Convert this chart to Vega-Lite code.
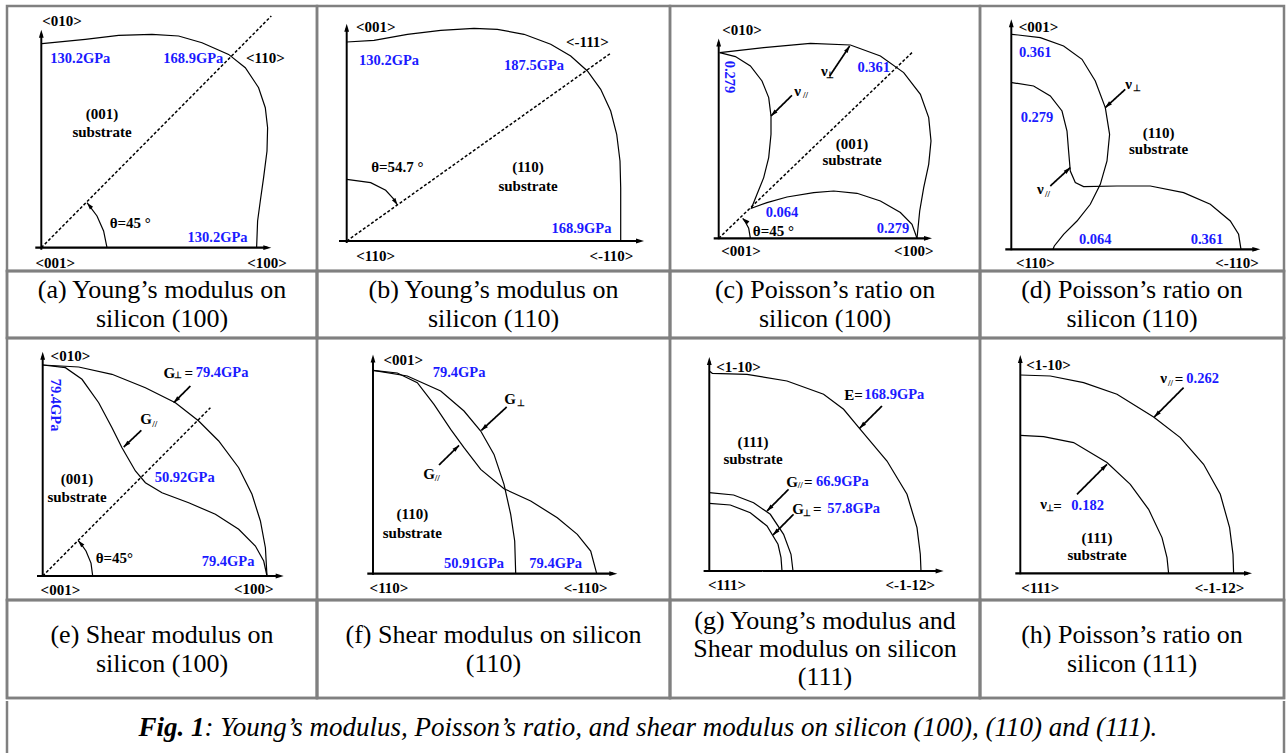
{
"$schema":"https://vega.github.io/schema/vega-lite/v6.json",
"background":"white",
"padding":{"left":4,"top":4,"right":0,"bottom":0},
"spacing":-2.5,
"config":{"view":{"stroke":"#808080","strokeWidth":2.5},"text":{"font":"Liberation Serif"}},
"datasets":{
"curves":[
{"p":"a","c":"E","u":0.7,"v":204},{"p":"a","c":"E","u":44,"v":208.3},{"p":"a","c":"E","u":77.3,"v":212.3},{"p":"a","c":"E","u":110.7,"v":213.3},{"p":"a","c":"E","u":137.3,"v":211.7},{"p":"a","c":"E","u":160.7,"v":205},{"p":"a","c":"E","u":187.3,"v":193.3},{"p":"a","c":"E","u":204,"v":180},{"p":"a","c":"E","u":217.3,"v":160},{"p":"a","c":"E","u":224,"v":140},{"p":"a","c":"E","u":226.3,"v":120},{"p":"a","c":"E","u":225.7,"v":96.7},{"p":"a","c":"E","u":222.3,"v":70},{"p":"a","c":"E","u":219,"v":46.7},{"p":"a","c":"E","u":216.3,"v":26.7},{"p":"a","c":"E","u":215.3,"v":0},
{"p":"a","c":"arc","u":65.7,"v":0},{"p":"a","c":"arc","u":62.3,"v":16.7},{"p":"a","c":"arc","u":55.7,"v":31.7},{"p":"a","c":"arc","u":45.7,"v":45},
{"p":"b","c":"E","u":0,"v":199},{"p":"b","c":"E","u":27.3,"v":200.7},{"p":"b","c":"E","u":60.7,"v":206.7},{"p":"b","c":"E","u":94,"v":210.7},{"p":"b","c":"E","u":127.3,"v":212.7},{"p":"b","c":"E","u":150.7,"v":211.7},{"p":"b","c":"E","u":177.3,"v":206.7},{"p":"b","c":"E","u":204,"v":196.7},{"p":"b","c":"E","u":224,"v":185},{"p":"b","c":"E","u":240.7,"v":170},{"p":"b","c":"E","u":254,"v":151.7},{"p":"b","c":"E","u":264,"v":130},{"p":"b","c":"E","u":270,"v":106.7},{"p":"b","c":"E","u":273.3,"v":80},{"p":"b","c":"E","u":274,"v":53.3},{"p":"b","c":"E","u":274,"v":26.7},{"p":"b","c":"E","u":274,"v":0.7},
{"p":"b","c":"arc","u":0,"v":61.7},{"p":"b","c":"arc","u":24,"v":58.3},{"p":"b","c":"arc","u":39,"v":50.7},{"p":"b","c":"arc","u":47.3,"v":41.7},{"p":"b","c":"arc","u":50.7,"v":36},
{"p":"c","c":"perp","u":1,"v":185.7},{"p":"c","c":"perp","u":45,"v":190.7},{"p":"c","c":"perp","u":91.7,"v":195},{"p":"c","c":"perp","u":131.7,"v":193.3},{"p":"c","c":"perp","u":161.7,"v":182.3},{"p":"c","c":"perp","u":185,"v":165.7},{"p":"c","c":"perp","u":201.7,"v":144},{"p":"c","c":"perp","u":210,"v":120.7},{"p":"c","c":"perp","u":212.3,"v":97.3},{"p":"c","c":"perp","u":210,"v":74},{"p":"c","c":"perp","u":205,"v":50.7},{"p":"c","c":"perp","u":201,"v":27.3},{"p":"c","c":"perp","u":198.3,"v":0},
{"p":"c","c":"par","u":1,"v":185.7},{"p":"c","c":"par","u":16.7,"v":181.7},{"p":"c","c":"par","u":31.7,"v":172.3},{"p":"c","c":"par","u":43.3,"v":157.3},{"p":"c","c":"par","u":50,"v":140.7},{"p":"c","c":"par","u":52.3,"v":122.3},{"p":"c","c":"par","u":52.3,"v":104},{"p":"c","c":"par","u":50,"v":80.7},{"p":"c","c":"par","u":45,"v":60.7},{"p":"c","c":"par","u":38.3,"v":44},{"p":"c","c":"par","u":32.7,"v":30},{"p":"c","c":"par","u":48.3,"v":35.7},{"p":"c","c":"par","u":68.3,"v":41.3},{"p":"c","c":"par","u":95,"v":45.7},{"p":"c","c":"par","u":115,"v":47.3},{"p":"c","c":"par","u":138.3,"v":45},{"p":"c","c":"par","u":161.7,"v":37.3},{"p":"c","c":"par","u":181.7,"v":25.7},{"p":"c","c":"par","u":193.3,"v":14},{"p":"c","c":"par","u":198.3,"v":0},
{"p":"c","c":"arc","u":31.7,"v":0},{"p":"c","c":"arc","u":30,"v":10},{"p":"c","c":"arc","u":26.5,"v":16.5},{"p":"c","c":"arc","u":24,"v":20},
{"p":"d","c":"perp","u":0.7,"v":215},{"p":"d","c":"perp","u":29,"v":211.7},{"p":"d","c":"perp","u":52.3,"v":203.3},{"p":"d","c":"perp","u":70.7,"v":190},{"p":"d","c":"perp","u":84,"v":168.3},{"p":"d","c":"perp","u":94,"v":141.7},{"p":"d","c":"perp","u":98.3,"v":115},{"p":"d","c":"perp","u":95.7,"v":88.3},{"p":"d","c":"perp","u":89,"v":65},{"p":"d","c":"perp","u":79,"v":45},{"p":"d","c":"perp","u":65.7,"v":28.3},{"p":"d","c":"perp","u":52.3,"v":15},{"p":"d","c":"perp","u":43,"v":3.3},{"p":"d","c":"perp","u":41.7,"v":0},
{"p":"d","c":"par","u":0.7,"v":166.7},{"p":"d","c":"par","u":22.3,"v":163.3},{"p":"d","c":"par","u":39,"v":153.3},{"p":"d","c":"par","u":50.7,"v":138.3},{"p":"d","c":"par","u":55.7,"v":118.3},{"p":"d","c":"par","u":57.3,"v":98.3},{"p":"d","c":"par","u":59,"v":78.3},{"p":"d","c":"par","u":64,"v":66.7},{"p":"d","c":"par","u":72.3,"v":62.7},{"p":"d","c":"par","u":105.7,"v":63.3},{"p":"d","c":"par","u":139,"v":63.3},{"p":"d","c":"par","u":172.3,"v":56.7},{"p":"d","c":"par","u":199,"v":45},{"p":"d","c":"par","u":219,"v":28.3},{"p":"d","c":"par","u":227.3,"v":15},{"p":"d","c":"par","u":229.7,"v":0},
{"p":"e","c":"perp","u":0,"v":211},{"p":"e","c":"perp","u":36,"v":209},{"p":"e","c":"perp","u":69.3,"v":201.7},{"p":"e","c":"perp","u":102.7,"v":188.3},{"p":"e","c":"perp","u":132.7,"v":173.3},{"p":"e","c":"perp","u":156,"v":155},{"p":"e","c":"perp","u":176,"v":135},{"p":"e","c":"perp","u":196,"v":108.3},{"p":"e","c":"perp","u":209.3,"v":81.7},{"p":"e","c":"perp","u":217.7,"v":55},{"p":"e","c":"perp","u":222.7,"v":28.3},{"p":"e","c":"perp","u":224.3,"v":0},
{"p":"e","c":"par","u":0,"v":211},{"p":"e","c":"par","u":22.7,"v":208.3},{"p":"e","c":"par","u":39.3,"v":196.7},{"p":"e","c":"par","u":56,"v":173.3},{"p":"e","c":"par","u":69.3,"v":148.3},{"p":"e","c":"par","u":79.3,"v":128.3},{"p":"e","c":"par","u":92.7,"v":105},{"p":"e","c":"par","u":102.7,"v":93.3},{"p":"e","c":"par","u":119.3,"v":83.3},{"p":"e","c":"par","u":146,"v":73.3},{"p":"e","c":"par","u":172.7,"v":61.7},{"p":"e","c":"par","u":196,"v":46.7},{"p":"e","c":"par","u":212.7,"v":30},{"p":"e","c":"par","u":221,"v":15},{"p":"e","c":"par","u":224.3,"v":0},
{"p":"e","c":"arc","u":50,"v":0},{"p":"e","c":"arc","u":48.3,"v":12.9},{"p":"e","c":"arc","u":43.3,"v":25},{"p":"e","c":"arc","u":38.3,"v":32.1},{"p":"e","c":"arc","u":35.4,"v":35.4},
{"p":"f","c":"perp","u":0,"v":203.3},{"p":"f","c":"perp","u":34.3,"v":197.7},{"p":"f","c":"perp","u":67.7,"v":182.7},{"p":"f","c":"perp","u":91,"v":162.7},{"p":"f","c":"perp","u":107.7,"v":142.7},{"p":"f","c":"perp","u":121,"v":119.3},{"p":"f","c":"perp","u":131,"v":89.3},{"p":"f","c":"perp","u":137.7,"v":59.3},{"p":"f","c":"perp","u":141.7,"v":32.7},{"p":"f","c":"perp","u":142.7,"v":0},
{"p":"f","c":"par","u":0,"v":203.3},{"p":"f","c":"par","u":24.3,"v":200.7},{"p":"f","c":"par","u":44.3,"v":191},{"p":"f","c":"par","u":61,"v":169.3},{"p":"f","c":"par","u":77.7,"v":144.3},{"p":"f","c":"par","u":91,"v":126},{"p":"f","c":"par","u":107.7,"v":104.3},{"p":"f","c":"par","u":131,"v":85},{"p":"f","c":"par","u":157.7,"v":72.7},{"p":"f","c":"par","u":184.3,"v":56},{"p":"f","c":"par","u":204.3,"v":39.3},{"p":"f","c":"par","u":217.7,"v":22.7},{"p":"f","c":"par","u":223.7,"v":0},
{"p":"g","c":"E","u":0,"v":200},{"p":"g","c":"E","u":3,"v":197.7},{"p":"g","c":"E","u":37.7,"v":196.7},{"p":"g","c":"E","u":77.7,"v":190},{"p":"g","c":"E","u":114.3,"v":176.7},{"p":"g","c":"E","u":134.3,"v":161.7},{"p":"g","c":"E","u":151,"v":141.7},{"p":"g","c":"E","u":177.7,"v":110},{"p":"g","c":"E","u":197.7,"v":76.7},{"p":"g","c":"E","u":207.7,"v":43.3},{"p":"g","c":"E","u":211,"v":16.7},{"p":"g","c":"E","u":211.7,"v":0},
{"p":"g","c":"par","u":0,"v":78.3},{"p":"g","c":"par","u":24.3,"v":76},{"p":"g","c":"par","u":44.3,"v":68.3},{"p":"g","c":"par","u":61,"v":56.7},{"p":"g","c":"par","u":74.3,"v":36.7},{"p":"g","c":"par","u":81.7,"v":16.7},{"p":"g","c":"par","u":83.7,"v":0},
{"p":"g","c":"perp","u":0,"v":67.7},{"p":"g","c":"perp","u":21,"v":66},{"p":"g","c":"perp","u":41,"v":58.3},{"p":"g","c":"perp","u":57.7,"v":45},{"p":"g","c":"perp","u":68.7,"v":26.7},{"p":"g","c":"perp","u":71.7,"v":13.3},{"p":"g","c":"perp","u":72.7,"v":0},
{"p":"h","c":"par","u":0,"v":198.3},{"p":"h","c":"par","u":30,"v":197.3},{"p":"h","c":"par","u":63.3,"v":190.7},{"p":"h","c":"par","u":96.7,"v":179},{"p":"h","c":"par","u":133.3,"v":156.3},{"p":"h","c":"par","u":160,"v":135.7},{"p":"h","c":"par","u":183.3,"v":109},{"p":"h","c":"par","u":200,"v":79},{"p":"h","c":"par","u":209.3,"v":45.7},{"p":"h","c":"par","u":212.7,"v":19},{"p":"h","c":"par","u":213.3,"v":0},
{"p":"h","c":"perp","u":0,"v":138},{"p":"h","c":"perp","u":23.3,"v":136.7},{"p":"h","c":"perp","u":53.3,"v":130.7},{"p":"h","c":"perp","u":86.7,"v":110.7},{"p":"h","c":"perp","u":110,"v":89},{"p":"h","c":"perp","u":128.3,"v":64},{"p":"h","c":"perp","u":141.7,"v":35.7},{"p":"h","c":"perp","u":146.7,"v":15.7},{"p":"h","c":"perp","u":148.3,"v":0}
],
"segs":[
{"p":"a","k":"xaxis","u":-6,"v":0,"u2":226,"v2":0},{"p":"a","k":"yaxis","u":0,"v":-2,"u2":0,"v2":214},{"p":"a","k":"dash","u":0,"v":0,"u2":230,"v2":231.7},
{"p":"b","k":"xaxis","u":-7.7,"v":0,"u2":293,"v2":0},{"p":"b","k":"yaxis","u":0,"v":-2,"u2":0,"v2":213},{"p":"b","k":"dash","u":0,"v":0,"u2":264.7,"v2":188.3},
{"p":"c","k":"xaxis","u":-5,"v":0,"u2":209,"v2":0},{"p":"c","k":"yaxis","u":0,"v":-1,"u2":0,"v2":196},{"p":"c","k":"dash","u":0,"v":0,"u2":193.3,"v2":185.7},{"p":"c","k":"ptr","u":111,"v":162.3,"u2":131,"v2":192.3},{"p":"c","k":"ptr","u":73.3,"v":143,"u2":52.3,"v2":122.3},
{"p":"d","k":"xaxis","u":-6,"v":0,"u2":245,"v2":0},{"p":"d","k":"yaxis","u":0,"v":-1,"u2":0,"v2":226},{"p":"d","k":"ptr","u":114,"v":160,"u2":94,"v2":141.7},{"p":"d","k":"ptr","u":39,"v":63.3,"u2":59,"v2":81.7},
{"p":"e","k":"xaxis","u":-5.7,"v":0,"u2":237,"v2":0},{"p":"e","k":"yaxis","u":0,"v":-1,"u2":0,"v2":220},{"p":"e","k":"dash","u":0,"v":0,"u2":167.7,"v2":168.3},{"p":"e","k":"ptr","u":147.7,"v":190,"u2":131,"v2":173.3},{"p":"e","k":"ptr","u":98.7,"v":145.7,"u2":81,"v2":129},
{"p":"f","k":"xaxis","u":-5.7,"v":0,"u2":240,"v2":0},{"p":"f","k":"yaxis","u":0,"v":-1,"u2":0,"v2":215},{"p":"f","k":"ptr","u":133.7,"v":166.7,"u2":108.3,"v2":143.3},{"p":"f","k":"ptr","u":66,"v":108.7,"u2":86,"v2":128.3},
{"p":"g","k":"xaxis","u":-5.7,"v":0,"u2":230,"v2":0},{"p":"g","k":"yaxis","u":0,"v":-1,"u2":0,"v2":210},{"p":"g","k":"ptr","u":172.7,"v":165,"u2":150.3,"v2":142.7},{"p":"g","k":"ptr","u":79.3,"v":81.7,"u2":57.7,"v2":60},{"p":"g","k":"ptr","u":84.3,"v":56.7,"u2":63.7,"v2":36},
{"p":"h","k":"xaxis","u":-5,"v":0,"u2":227.7,"v2":0},{"p":"h","k":"yaxis","u":0,"v":-1,"u2":0,"v2":214.3},{"p":"h","k":"ptr","u":163.3,"v":185.7,"u2":134,"v2":156.3},{"p":"h","k":"ptr","u":56.7,"v":79,"u2":86.7,"v2":109}
],
"heads":[
{"p":"a","k":"axis","u":230,"v":0,"a":90},{"p":"a","k":"axis","u":0,"v":218,"a":0},{"p":"a","k":"ptr","u":45.7,"v":45,"a":-40},
{"p":"b","k":"axis","u":297.3,"v":0,"a":90},{"p":"b","k":"axis","u":0,"v":217.3,"a":0},{"p":"b","k":"ptr","u":50.7,"v":36,"a":148},
{"p":"c","k":"axis","u":213.3,"v":0,"a":90},{"p":"c","k":"axis","u":0,"v":199.7,"a":0},{"p":"c","k":"ptr","u":131,"v":192.3,"a":33.7},{"p":"c","k":"ptr","u":52.3,"v":122.3,"a":225.4},{"p":"c","k":"ptr","u":24,"v":20,"a":-50},
{"p":"d","k":"axis","u":249,"v":0,"a":90},{"p":"d","k":"axis","u":0,"v":230,"a":0},{"p":"d","k":"ptr","u":94,"v":141.7,"a":227.5},{"p":"d","k":"ptr","u":59,"v":81.7,"a":47.4},
{"p":"e","k":"axis","u":241,"v":0,"a":90},{"p":"e","k":"axis","u":0,"v":224.3,"a":0},{"p":"e","k":"ptr","u":131,"v":173.3,"a":225},{"p":"e","k":"ptr","u":81,"v":129,"a":226.7},{"p":"e","k":"ptr","u":35.4,"v":35.4,"a":-42},
{"p":"f","k":"axis","u":244.3,"v":0,"a":90},{"p":"f","k":"axis","u":0,"v":219.3,"a":0},{"p":"f","k":"ptr","u":108.3,"v":143.3,"a":227.3},{"p":"f","k":"ptr","u":86,"v":128.3,"a":45.6},
{"p":"g","k":"axis","u":234.3,"v":0,"a":90},{"p":"g","k":"axis","u":0,"v":214,"a":0},{"p":"g","k":"ptr","u":150.3,"v":142.7,"a":225},{"p":"g","k":"ptr","u":57.7,"v":60,"a":225},{"p":"g","k":"ptr","u":63.7,"v":36,"a":225},
{"p":"h","k":"axis","u":231.7,"v":0,"a":90},{"p":"h","k":"axis","u":0,"v":218.3,"a":0},{"p":"h","k":"ptr","u":134,"v":156.3,"a":225},{"p":"h","k":"ptr","u":86.7,"v":109,"a":45}
],
"black":[
{"p":"a","t":"<010>","u":20.7,"v":226.7},{"p":"a","t":"<110>","u":224,"v":189.3},{"p":"a","t":"(001)","u":60.7,"v":133.3},{"p":"a","t":"substrate","u":60.7,"v":116},{"p":"a","t":"θ=45 °","u":89,"v":25},{"p":"a","t":"<001>","u":14,"v":-15},{"p":"a","t":"<100>","u":225.7,"v":-15},
{"p":"b","t":"<001>","u":29,"v":214},{"p":"b","t":"<-111>","u":240.7,"v":199.3},{"p":"b","t":"θ=54.7 °","u":50.7,"v":74.3},{"p":"b","t":"(110)","u":181.3,"v":74.3},{"p":"b","t":"substrate","u":181.3,"v":55},{"p":"b","t":"<110>","u":29,"v":-15},{"p":"b","t":"<-110>","u":264.7,"v":-15},
{"p":"c","t":"<010>","u":23.3,"v":208},{"p":"c","t":"ν","u":105.7,"v":167.3},{"p":"c","t":"ν","u":79,"v":147.3},{"p":"c","t":"(001)","u":133.3,"v":94},{"p":"c","t":"substrate","u":133.3,"v":78},{"p":"c","t":"θ=45 °","u":54.7,"v":7.3},{"p":"c","t":"<001>","u":22.3,"v":-12.7},{"p":"c","t":"<100>","u":195,"v":-12.7},
{"p":"d","t":"<001>","u":27.3,"v":222.3},{"p":"d","t":"ν","u":117.3,"v":165},{"p":"d","t":"(110)","u":147.3,"v":116.7},{"p":"d","t":"substrate","u":147.3,"v":100},{"p":"d","t":"ν","u":29,"v":60},{"p":"d","t":"<110>","u":24,"v":-13.3},{"p":"d","t":"<-110>","u":225.7,"v":-13.3},
{"p":"e","t":"<010>","u":27.7,"v":220},{"p":"e","t":"G","u":126.7,"v":203.3},{"p":"e","t":"=","u":146,"v":203.3},{"p":"e","t":"G","u":103.3,"v":156.7},{"p":"e","t":"(001)","u":34.3,"v":96.7},{"p":"e","t":"substrate","u":34.3,"v":79.3},{"p":"e","t":"θ=45°","u":71.7,"v":18.3},{"p":"e","t":"<001>","u":17.7,"v":-14.3},{"p":"e","t":"<100>","u":211,"v":-13.3},
{"p":"f","t":"<001>","u":30.3,"v":213.3},{"p":"f","t":"G","u":137,"v":174.3},{"p":"f","t":"G","u":56,"v":99.3},{"p":"f","t":"(110)","u":39.3,"v":59.3},{"p":"f","t":"substrate","u":39.3,"v":41},{"p":"f","t":"<110>","u":16,"v":-14},{"p":"f","t":"<-110>","u":212.7,"v":-14},
{"p":"g","t":"<1-10>","u":29.3,"v":204},{"p":"g","t":"E=","u":144.3,"v":176},{"p":"g","t":"(111)","u":43.7,"v":129.3},{"p":"g","t":"substrate","u":43.7,"v":111.7},{"p":"g","t":"G","u":82.7,"v":89.3},{"p":"g","t":"=","u":99,"v":89.3},{"p":"g","t":"G","u":88.7,"v":61.7},{"p":"g","t":"=","u":108,"v":61.7},{"p":"g","t":"<111>","u":17.7,"v":-14.3},{"p":"g","t":"<-1-12>","u":201,"v":-14.3},
{"p":"h","t":"<1-10>","u":28.3,"v":208.3},{"p":"h","t":"ν","u":143.3,"v":195},{"p":"h","t":"=","u":158.7,"v":194},{"p":"h","t":"ν","u":23.3,"v":69},{"p":"h","t":"=","u":37.3,"v":67.3},{"p":"h","t":"(111)","u":76.7,"v":35.7},{"p":"h","t":"substrate","u":76.7,"v":18},{"p":"h","t":"<111>","u":20,"v":-14.3},{"p":"h","t":"<-1-12>","u":199.3,"v":-14.3}
],
"blue":[
{"p":"a","t":"130.2GPa","u":39,"v":188.3},{"p":"a","t":"168.9GPa","u":152,"v":188.3},{"p":"a","t":"130.2GPa","u":176.3,"v":9.3},
{"p":"b","t":"130.2GPa","u":42.3,"v":180},{"p":"b","t":"187.5GPa","u":187.3,"v":175},{"p":"b","t":"168.9GPa","u":234.7,"v":12.3},
{"p":"c","t":"0.361","u":155,"v":170.7},{"p":"c","t":"0.064","u":63.3,"v":25.7},{"p":"c","t":"0.279","u":174.3,"v":9.7},
{"p":"d","t":"0.361","u":24,"v":196.7},{"p":"d","t":"0.279","u":25.7,"v":131},{"p":"d","t":"0.064","u":84,"v":9},{"p":"d","t":"0.361","u":195.7,"v":9},
{"p":"e","t":"79.4GPa","u":179.3,"v":202.7},{"p":"e","t":"50.92GPa","u":142,"v":97.7},{"p":"e","t":"79.4GPa","u":185.3,"v":14},
{"p":"f","t":"79.4GPa","u":86,"v":200.3},{"p":"f","t":"50.91GPa","u":101,"v":10},{"p":"f","t":"79.4GPa","u":182.7,"v":10},
{"p":"g","t":"168.9GPa","u":185,"v":176},{"p":"g","t":"66.9GPa","u":133,"v":89.3},{"p":"g","t":"57.8GPa","u":144.3,"v":61.7},
{"p":"h","t":"0.262","u":182.3,"v":194},{"p":"h","t":"0.182","u":67.3,"v":67.3}
],
"vblue":[
{"p":"c","t":"0.279","u":10,"v":161.3},{"p":"e","t":"79.4GPa","u":12,"v":171}
],
"subs":[
{"p":"c","t":"⊥","u":111,"v":163.3},{"p":"c","t":"//","u":86.7,"v":143.3},
{"p":"d","t":"⊥","u":125.7,"v":161},{"p":"d","t":"//","u":36.3,"v":55.7},
{"p":"e","t":"⊥","u":135.7,"v":200.7},{"p":"e","t":"//","u":112,"v":151.7},
{"p":"f","t":"⊥","u":147.7,"v":171},{"p":"f","t":"//","u":64.3,"v":95.3},
{"p":"g","t":"//","u":91,"v":86},{"p":"g","t":"⊥","u":98,"v":58.3},
{"p":"h","t":"//","u":150.3,"v":190.7},{"p":"h","t":"⊥","u":29.7,"v":65.7}
],
"caps":[
{"id":"a","t":"(a) Young’s modulus on\nsilicon (100)"},
{"id":"b","t":"(b) Young’s modulus on\nsilicon (110)"},
{"id":"c","t":"(c) Poisson’s ratio on\nsilicon (100)"},
{"id":"d","t":"(d) Poisson’s ratio on\nsilicon  (110)"},
{"id":"e","t":"(e) Shear modulus on\nsilicon  (100)"},
{"id":"f","t":"(f) Shear modulus on silicon\n(110)"},
{"id":"g","t":"(g) Young’s modulus and\nShear modulus on silicon\n(111)"},
{"id":"h","t":"(h) Poisson’s ratio on\nsilicon  (111)"}
],
"fig":[{"a":"Fig. 1","b":": Young’s modulus, Poisson’s ratio, and shear modulus on silicon (100), (110) and (111)."}]
},
"vconcat":[
{"columns":4,"spacing":0,"bounds":"flush","align":"each","concat":[
{"width":310,"height":265,
"encoding":{"x":{"field":"u","type":"quantitative","scale":{"domain":[-34.3,275.7],"nice":false,"zero":false},"axis":null},"y":{"field":"v","type":"quantitative","scale":{"domain":[-23.3,241.7],"nice":false,"zero":false},"axis":null}},
"layer":[
{"data":{"name":"segs"},"transform":[{"filter":"datum.p=='a'"}],"mark":{"type":"rule","color":"black"},"encoding":{"x2":{"field":"u2"},"y2":{"field":"v2"},"strokeWidth":{"field":"k","type":"ordinal","scale":{"domain":["xaxis","yaxis","ptr","dash"],"range":[2.2,1.5,1,0.8]},"legend":null},"strokeDash":{"field":"k","type":"ordinal","scale":{"domain":["xaxis","yaxis","ptr","dash"],"range":[[1,0],[1,0],[1,0],[3,2]]},"legend":null}}},
{"data":{"name":"curves"},"transform":[{"filter":"datum.p=='a'"}],"mark":{"type":"line","color":"black","strokeWidth":1.2},"encoding":{"detail":{"field":"c"},"order":{"value":null}}},
{"data":{"name":"heads"},"transform":[{"filter":"datum.p=='a'"}],"mark":{"type":"point","shape":"M0,0L-0.6,2L0.6,2Z","filled":true,"color":"black","opacity":1},"encoding":{"angle":{"field":"a","type":"quantitative","scale":null},"size":{"field":"k","type":"ordinal","scale":{"domain":["axis","ptr"],"range":[64,49]},"legend":null}}},
{"data":{"name":"black"},"transform":[{"filter":"datum.p=='a'"}],"mark":{"type":"text","fontWeight":"bold","fontSize":15,"color":"black","baseline":"middle"},"encoding":{"text":{"field":"t"}}},
{"data":{"name":"blue"},"transform":[{"filter":"datum.p=='a'"}],"mark":{"type":"text","fontWeight":"bold","fontSize":14.5,"color":"#1a1aff","baseline":"middle"},"encoding":{"text":{"field":"t"}}}
]},
{"width":353,"height":265,
"encoding":{"x":{"field":"u","type":"quantitative","scale":{"domain":[-29.7,323.3],"nice":false,"zero":false},"axis":null},"y":{"field":"v","type":"quantitative","scale":{"domain":[-30,235],"nice":false,"zero":false},"axis":null}},
"layer":[
{"data":{"name":"segs"},"transform":[{"filter":"datum.p=='b'"}],"mark":{"type":"rule","color":"black"},"encoding":{"x2":{"field":"u2"},"y2":{"field":"v2"},"strokeWidth":{"field":"k","type":"ordinal","scale":{"domain":["xaxis","yaxis","ptr","dash"],"range":[2.2,1.5,1,0.8]},"legend":null},"strokeDash":{"field":"k","type":"ordinal","scale":{"domain":["xaxis","yaxis","ptr","dash"],"range":[[1,0],[1,0],[1,0],[3,2]]},"legend":null}}},
{"data":{"name":"curves"},"transform":[{"filter":"datum.p=='b'"}],"mark":{"type":"line","color":"black","strokeWidth":1.2},"encoding":{"detail":{"field":"c"},"order":{"value":null}}},
{"data":{"name":"heads"},"transform":[{"filter":"datum.p=='b'"}],"mark":{"type":"point","shape":"M0,0L-0.6,2L0.6,2Z","filled":true,"color":"black","opacity":1},"encoding":{"angle":{"field":"a","type":"quantitative","scale":null},"size":{"field":"k","type":"ordinal","scale":{"domain":["axis","ptr"],"range":[64,49]},"legend":null}}},
{"data":{"name":"black"},"transform":[{"filter":"datum.p=='b'"}],"mark":{"type":"text","fontWeight":"bold","fontSize":15,"color":"black","baseline":"middle"},"encoding":{"text":{"field":"t"}}},
{"data":{"name":"blue"},"transform":[{"filter":"datum.p=='b'"}],"mark":{"type":"text","fontWeight":"bold","fontSize":14.5,"color":"#1a1aff","baseline":"middle"},"encoding":{"text":{"field":"t"}}}
]},
{"width":310,"height":265,
"encoding":{"x":{"field":"u","type":"quantitative","scale":{"domain":[-48.7,261.3],"nice":false,"zero":false},"axis":null},"y":{"field":"v","type":"quantitative","scale":{"domain":[-32.7,232.3],"nice":false,"zero":false},"axis":null}},
"layer":[
{"data":{"name":"segs"},"transform":[{"filter":"datum.p=='c'"}],"mark":{"type":"rule","color":"black"},"encoding":{"x2":{"field":"u2"},"y2":{"field":"v2"},"strokeWidth":{"field":"k","type":"ordinal","scale":{"domain":["xaxis","yaxis","ptr","dash"],"range":[2.2,1.5,1,0.8]},"legend":null},"strokeDash":{"field":"k","type":"ordinal","scale":{"domain":["xaxis","yaxis","ptr","dash"],"range":[[1,0],[1,0],[1,0],[3,2]]},"legend":null}}},
{"data":{"name":"curves"},"transform":[{"filter":"datum.p=='c'"}],"mark":{"type":"line","color":"black","strokeWidth":1.2},"encoding":{"detail":{"field":"c"},"order":{"value":null}}},
{"data":{"name":"heads"},"transform":[{"filter":"datum.p=='c'"}],"mark":{"type":"point","shape":"M0,0L-0.6,2L0.6,2Z","filled":true,"color":"black","opacity":1},"encoding":{"angle":{"field":"a","type":"quantitative","scale":null},"size":{"field":"k","type":"ordinal","scale":{"domain":["axis","ptr"],"range":[64,49]},"legend":null}}},
{"data":{"name":"black"},"transform":[{"filter":"datum.p=='c'"}],"mark":{"type":"text","fontWeight":"bold","fontSize":15,"color":"black","baseline":"middle"},"encoding":{"text":{"field":"t"}}},
{"data":{"name":"blue"},"transform":[{"filter":"datum.p=='c'"}],"mark":{"type":"text","fontWeight":"bold","fontSize":14.5,"color":"#1a1aff","baseline":"middle"},"encoding":{"text":{"field":"t"}}},
{"data":{"name":"vblue"},"transform":[{"filter":"datum.p=='c'"}],"mark":{"type":"text","fontWeight":"bold","fontSize":14.5,"color":"#1a1aff","baseline":"middle","angle":90},"encoding":{"text":{"field":"t"}}},
{"data":{"name":"subs"},"transform":[{"filter":"datum.p=='c'"}],"mark":{"type":"text","fontWeight":"bold","fontSize":9,"color":"black","baseline":"middle"},"encoding":{"text":{"field":"t"}}}
]},
{"width":304,"height":265,
"encoding":{"x":{"field":"u","type":"quantitative","scale":{"domain":[-31.3,272.7],"nice":false,"zero":false},"axis":null},"y":{"field":"v","type":"quantitative","scale":{"domain":[-21.7,243.3],"nice":false,"zero":false},"axis":null}},
"layer":[
{"data":{"name":"segs"},"transform":[{"filter":"datum.p=='d'"}],"mark":{"type":"rule","color":"black"},"encoding":{"x2":{"field":"u2"},"y2":{"field":"v2"},"strokeWidth":{"field":"k","type":"ordinal","scale":{"domain":["xaxis","yaxis","ptr","dash"],"range":[2.2,1.5,1,0.8]},"legend":null},"strokeDash":{"field":"k","type":"ordinal","scale":{"domain":["xaxis","yaxis","ptr","dash"],"range":[[1,0],[1,0],[1,0],[3,2]]},"legend":null}}},
{"data":{"name":"curves"},"transform":[{"filter":"datum.p=='d'"}],"mark":{"type":"line","color":"black","strokeWidth":1.2},"encoding":{"detail":{"field":"c"},"order":{"value":null}}},
{"data":{"name":"heads"},"transform":[{"filter":"datum.p=='d'"}],"mark":{"type":"point","shape":"M0,0L-0.6,2L0.6,2Z","filled":true,"color":"black","opacity":1},"encoding":{"angle":{"field":"a","type":"quantitative","scale":null},"size":{"field":"k","type":"ordinal","scale":{"domain":["axis","ptr"],"range":[64,49]},"legend":null}}},
{"data":{"name":"black"},"transform":[{"filter":"datum.p=='d'"}],"mark":{"type":"text","fontWeight":"bold","fontSize":15,"color":"black","baseline":"middle"},"encoding":{"text":{"field":"t"}}},
{"data":{"name":"blue"},"transform":[{"filter":"datum.p=='d'"}],"mark":{"type":"text","fontWeight":"bold","fontSize":14.5,"color":"#1a1aff","baseline":"middle"},"encoding":{"text":{"field":"t"}}},
{"data":{"name":"subs"},"transform":[{"filter":"datum.p=='d'"}],"mark":{"type":"text","fontWeight":"bold","fontSize":9,"color":"black","baseline":"middle"},"encoding":{"text":{"field":"t"}}}
]},
{"width":310,"height":67,"data":{"name":"caps"},"transform":[{"filter":"datum.id=='a'"}],
"encoding":{"x":{"datum":0.5,"type":"quantitative","scale":{"domain":[0,1]},"axis":null},"y":{"datum":0.5,"type":"quantitative","scale":{"domain":[0,1]},"axis":null}},
"layer":[
{"mark":{"type":"rect","filled":false,"stroke":"#808080","strokeWidth":2.5},"encoding":{"x":{"datum":0},"x2":{"datum":1},"y":{"datum":0},"y2":{"datum":1}}},
{"mark":{"type":"text","fontSize":26,"lineBreak":"\n","lineHeight":29,"baseline":"middle","align":"center","color":"black","dy":-14.5},"encoding":{"text":{"field":"t"}}}
]},
{"width":353,"height":67,"data":{"name":"caps"},"transform":[{"filter":"datum.id=='b'"}],
"encoding":{"x":{"datum":0.5,"type":"quantitative","scale":{"domain":[0,1]},"axis":null},"y":{"datum":0.5,"type":"quantitative","scale":{"domain":[0,1]},"axis":null}},
"layer":[
{"mark":{"type":"rect","filled":false,"stroke":"#808080","strokeWidth":2.5},"encoding":{"x":{"datum":0},"x2":{"datum":1},"y":{"datum":0},"y2":{"datum":1}}},
{"mark":{"type":"text","fontSize":26,"lineBreak":"\n","lineHeight":29,"baseline":"middle","align":"center","color":"black","dy":-14.5},"encoding":{"text":{"field":"t"}}}
]},
{"width":310,"height":67,"data":{"name":"caps"},"transform":[{"filter":"datum.id=='c'"}],
"encoding":{"x":{"datum":0.5,"type":"quantitative","scale":{"domain":[0,1]},"axis":null},"y":{"datum":0.5,"type":"quantitative","scale":{"domain":[0,1]},"axis":null}},
"layer":[
{"mark":{"type":"rect","filled":false,"stroke":"#808080","strokeWidth":2.5},"encoding":{"x":{"datum":0},"x2":{"datum":1},"y":{"datum":0},"y2":{"datum":1}}},
{"mark":{"type":"text","fontSize":26,"lineBreak":"\n","lineHeight":29,"baseline":"middle","align":"center","color":"black","dy":-14.5},"encoding":{"text":{"field":"t"}}}
]},
{"width":304,"height":67,"data":{"name":"caps"},"transform":[{"filter":"datum.id=='d'"}],
"encoding":{"x":{"datum":0.5,"type":"quantitative","scale":{"domain":[0,1]},"axis":null},"y":{"datum":0.5,"type":"quantitative","scale":{"domain":[0,1]},"axis":null}},
"layer":[
{"mark":{"type":"rect","filled":false,"stroke":"#808080","strokeWidth":2.5},"encoding":{"x":{"datum":0},"x2":{"datum":1},"y":{"datum":0},"y2":{"datum":1}}},
{"mark":{"type":"text","fontSize":26,"lineBreak":"\n","lineHeight":29,"baseline":"middle","align":"center","color":"black","dy":-14.5},"encoding":{"text":{"field":"t"}}}
]},
{"width":310,"height":262,
"encoding":{"x":{"field":"u","type":"quantitative","scale":{"domain":[-35.7,274.3],"nice":false,"zero":false},"axis":null},"y":{"field":"v","type":"quantitative","scale":{"domain":[-24,238],"nice":false,"zero":false},"axis":null}},
"layer":[
{"data":{"name":"segs"},"transform":[{"filter":"datum.p=='e'"}],"mark":{"type":"rule","color":"black"},"encoding":{"x2":{"field":"u2"},"y2":{"field":"v2"},"strokeWidth":{"field":"k","type":"ordinal","scale":{"domain":["xaxis","yaxis","ptr","dash"],"range":[2.2,1.5,1,0.8]},"legend":null},"strokeDash":{"field":"k","type":"ordinal","scale":{"domain":["xaxis","yaxis","ptr","dash"],"range":[[1,0],[1,0],[1,0],[3,2]]},"legend":null}}},
{"data":{"name":"curves"},"transform":[{"filter":"datum.p=='e'"}],"mark":{"type":"line","color":"black","strokeWidth":1.2},"encoding":{"detail":{"field":"c"},"order":{"value":null}}},
{"data":{"name":"heads"},"transform":[{"filter":"datum.p=='e'"}],"mark":{"type":"point","shape":"M0,0L-0.6,2L0.6,2Z","filled":true,"color":"black","opacity":1},"encoding":{"angle":{"field":"a","type":"quantitative","scale":null},"size":{"field":"k","type":"ordinal","scale":{"domain":["axis","ptr"],"range":[64,49]},"legend":null}}},
{"data":{"name":"black"},"transform":[{"filter":"datum.p=='e'"}],"mark":{"type":"text","fontWeight":"bold","fontSize":15,"color":"black","baseline":"middle"},"encoding":{"text":{"field":"t"}}},
{"data":{"name":"blue"},"transform":[{"filter":"datum.p=='e'"}],"mark":{"type":"text","fontWeight":"bold","fontSize":14.5,"color":"#1a1aff","baseline":"middle"},"encoding":{"text":{"field":"t"}}},
{"data":{"name":"vblue"},"transform":[{"filter":"datum.p=='e'"}],"mark":{"type":"text","fontWeight":"bold","fontSize":14.5,"color":"#1a1aff","baseline":"middle","angle":90},"encoding":{"text":{"field":"t"}}},
{"data":{"name":"subs"},"transform":[{"filter":"datum.p=='e'"}],"mark":{"type":"text","fontWeight":"bold","fontSize":9,"color":"black","baseline":"middle"},"encoding":{"text":{"field":"t"}}}
]},
{"width":353,"height":262,
"encoding":{"x":{"field":"u","type":"quantitative","scale":{"domain":[-56,297],"nice":false,"zero":false},"axis":null},"y":{"field":"v","type":"quantitative","scale":{"domain":[-26.3,235.7],"nice":false,"zero":false},"axis":null}},
"layer":[
{"data":{"name":"segs"},"transform":[{"filter":"datum.p=='f'"}],"mark":{"type":"rule","color":"black"},"encoding":{"x2":{"field":"u2"},"y2":{"field":"v2"},"strokeWidth":{"field":"k","type":"ordinal","scale":{"domain":["xaxis","yaxis","ptr","dash"],"range":[2.2,1.5,1,0.8]},"legend":null},"strokeDash":{"field":"k","type":"ordinal","scale":{"domain":["xaxis","yaxis","ptr","dash"],"range":[[1,0],[1,0],[1,0],[3,2]]},"legend":null}}},
{"data":{"name":"curves"},"transform":[{"filter":"datum.p=='f'"}],"mark":{"type":"line","color":"black","strokeWidth":1.2},"encoding":{"detail":{"field":"c"},"order":{"value":null}}},
{"data":{"name":"heads"},"transform":[{"filter":"datum.p=='f'"}],"mark":{"type":"point","shape":"M0,0L-0.6,2L0.6,2Z","filled":true,"color":"black","opacity":1},"encoding":{"angle":{"field":"a","type":"quantitative","scale":null},"size":{"field":"k","type":"ordinal","scale":{"domain":["axis","ptr"],"range":[64,49]},"legend":null}}},
{"data":{"name":"black"},"transform":[{"filter":"datum.p=='f'"}],"mark":{"type":"text","fontWeight":"bold","fontSize":15,"color":"black","baseline":"middle"},"encoding":{"text":{"field":"t"}}},
{"data":{"name":"blue"},"transform":[{"filter":"datum.p=='f'"}],"mark":{"type":"text","fontWeight":"bold","fontSize":14.5,"color":"#1a1aff","baseline":"middle"},"encoding":{"text":{"field":"t"}}},
{"data":{"name":"subs"},"transform":[{"filter":"datum.p=='f'"}],"mark":{"type":"text","fontWeight":"bold","fontSize":9,"color":"black","baseline":"middle"},"encoding":{"text":{"field":"t"}}}
]},
{"width":310,"height":262,
"encoding":{"x":{"field":"u","type":"quantitative","scale":{"domain":[-39.3,270.7],"nice":false,"zero":false},"axis":null},"y":{"field":"v","type":"quantitative","scale":{"domain":[-29,233],"nice":false,"zero":false},"axis":null}},
"layer":[
{"data":{"name":"segs"},"transform":[{"filter":"datum.p=='g'"}],"mark":{"type":"rule","color":"black"},"encoding":{"x2":{"field":"u2"},"y2":{"field":"v2"},"strokeWidth":{"field":"k","type":"ordinal","scale":{"domain":["xaxis","yaxis","ptr","dash"],"range":[2.2,1.5,1,0.8]},"legend":null},"strokeDash":{"field":"k","type":"ordinal","scale":{"domain":["xaxis","yaxis","ptr","dash"],"range":[[1,0],[1,0],[1,0],[3,2]]},"legend":null}}},
{"data":{"name":"curves"},"transform":[{"filter":"datum.p=='g'"}],"mark":{"type":"line","color":"black","strokeWidth":1.2},"encoding":{"detail":{"field":"c"},"order":{"value":null}}},
{"data":{"name":"heads"},"transform":[{"filter":"datum.p=='g'"}],"mark":{"type":"point","shape":"M0,0L-0.6,2L0.6,2Z","filled":true,"color":"black","opacity":1},"encoding":{"angle":{"field":"a","type":"quantitative","scale":null},"size":{"field":"k","type":"ordinal","scale":{"domain":["axis","ptr"],"range":[64,49]},"legend":null}}},
{"data":{"name":"black"},"transform":[{"filter":"datum.p=='g'"}],"mark":{"type":"text","fontWeight":"bold","fontSize":15,"color":"black","baseline":"middle"},"encoding":{"text":{"field":"t"}}},
{"data":{"name":"blue"},"transform":[{"filter":"datum.p=='g'"}],"mark":{"type":"text","fontWeight":"bold","fontSize":14.5,"color":"#1a1aff","baseline":"middle"},"encoding":{"text":{"field":"t"}}},
{"data":{"name":"subs"},"transform":[{"filter":"datum.p=='g'"}],"mark":{"type":"text","fontWeight":"bold","fontSize":9,"color":"black","baseline":"middle"},"encoding":{"text":{"field":"t"}}}
]},
{"width":304,"height":262,
"encoding":{"x":{"field":"u","type":"quantitative","scale":{"domain":[-40.3,263.7],"nice":false,"zero":false},"axis":null},"y":{"field":"v","type":"quantitative","scale":{"domain":[-26.7,235.3],"nice":false,"zero":false},"axis":null}},
"layer":[
{"data":{"name":"segs"},"transform":[{"filter":"datum.p=='h'"}],"mark":{"type":"rule","color":"black"},"encoding":{"x2":{"field":"u2"},"y2":{"field":"v2"},"strokeWidth":{"field":"k","type":"ordinal","scale":{"domain":["xaxis","yaxis","ptr","dash"],"range":[2.2,1.5,1,0.8]},"legend":null},"strokeDash":{"field":"k","type":"ordinal","scale":{"domain":["xaxis","yaxis","ptr","dash"],"range":[[1,0],[1,0],[1,0],[3,2]]},"legend":null}}},
{"data":{"name":"curves"},"transform":[{"filter":"datum.p=='h'"}],"mark":{"type":"line","color":"black","strokeWidth":1.2},"encoding":{"detail":{"field":"c"},"order":{"value":null}}},
{"data":{"name":"heads"},"transform":[{"filter":"datum.p=='h'"}],"mark":{"type":"point","shape":"M0,0L-0.6,2L0.6,2Z","filled":true,"color":"black","opacity":1},"encoding":{"angle":{"field":"a","type":"quantitative","scale":null},"size":{"field":"k","type":"ordinal","scale":{"domain":["axis","ptr"],"range":[64,49]},"legend":null}}},
{"data":{"name":"black"},"transform":[{"filter":"datum.p=='h'"}],"mark":{"type":"text","fontWeight":"bold","fontSize":15,"color":"black","baseline":"middle"},"encoding":{"text":{"field":"t"}}},
{"data":{"name":"blue"},"transform":[{"filter":"datum.p=='h'"}],"mark":{"type":"text","fontWeight":"bold","fontSize":14.5,"color":"#1a1aff","baseline":"middle"},"encoding":{"text":{"field":"t"}}},
{"data":{"name":"subs"},"transform":[{"filter":"datum.p=='h'"}],"mark":{"type":"text","fontWeight":"bold","fontSize":9,"color":"black","baseline":"middle"},"encoding":{"text":{"field":"t"}}}
]},
{"width":310,"height":98,"data":{"name":"caps"},"transform":[{"filter":"datum.id=='e'"}],
"encoding":{"x":{"datum":0.5,"type":"quantitative","scale":{"domain":[0,1]},"axis":null},"y":{"datum":0.5,"type":"quantitative","scale":{"domain":[0,1]},"axis":null}},
"layer":[
{"mark":{"type":"rect","filled":false,"stroke":"#808080","strokeWidth":2.5},"encoding":{"x":{"datum":0},"x2":{"datum":1},"y":{"datum":0},"y2":{"datum":1}}},
{"mark":{"type":"text","fontSize":26,"lineBreak":"\n","lineHeight":29,"baseline":"middle","align":"center","color":"black","dy":-14.5},"encoding":{"text":{"field":"t"}}}
]},
{"width":353,"height":98,"data":{"name":"caps"},"transform":[{"filter":"datum.id=='f'"}],
"encoding":{"x":{"datum":0.5,"type":"quantitative","scale":{"domain":[0,1]},"axis":null},"y":{"datum":0.5,"type":"quantitative","scale":{"domain":[0,1]},"axis":null}},
"layer":[
{"mark":{"type":"rect","filled":false,"stroke":"#808080","strokeWidth":2.5},"encoding":{"x":{"datum":0},"x2":{"datum":1},"y":{"datum":0},"y2":{"datum":1}}},
{"mark":{"type":"text","fontSize":26,"lineBreak":"\n","lineHeight":29,"baseline":"middle","align":"center","color":"black","dy":-14.5},"encoding":{"text":{"field":"t"}}}
]},
{"width":310,"height":98,"data":{"name":"caps"},"transform":[{"filter":"datum.id=='g'"}],
"encoding":{"x":{"datum":0.5,"type":"quantitative","scale":{"domain":[0,1]},"axis":null},"y":{"datum":0.5,"type":"quantitative","scale":{"domain":[0,1]},"axis":null}},
"layer":[
{"mark":{"type":"rect","filled":false,"stroke":"#808080","strokeWidth":2.5},"encoding":{"x":{"datum":0},"x2":{"datum":1},"y":{"datum":0},"y2":{"datum":1}}},
{"mark":{"type":"text","fontSize":26,"lineBreak":"\n","lineHeight":28,"baseline":"middle","align":"center","color":"black","dy":-28},"encoding":{"text":{"field":"t"}}}
]},
{"width":304,"height":98,"data":{"name":"caps"},"transform":[{"filter":"datum.id=='h'"}],
"encoding":{"x":{"datum":0.5,"type":"quantitative","scale":{"domain":[0,1]},"axis":null},"y":{"datum":0.5,"type":"quantitative","scale":{"domain":[0,1]},"axis":null}},
"layer":[
{"mark":{"type":"rect","filled":false,"stroke":"#808080","strokeWidth":2.5},"encoding":{"x":{"datum":0},"x2":{"datum":1},"y":{"datum":0},"y2":{"datum":1}}},
{"mark":{"type":"text","fontSize":26,"lineBreak":"\n","lineHeight":29,"baseline":"middle","align":"center","color":"black","dy":-14.5},"encoding":{"text":{"field":"t"}}}
]}
]},
{"width":1277,"height":53,"data":{"name":"fig"},"view":{"stroke":null},
"encoding":{"x":{"datum":0.5,"type":"quantitative","scale":{"domain":[0,1]},"axis":null},"y":{"datum":0.5,"type":"quantitative","scale":{"domain":[0,1]},"axis":null}},
"layer":[
{"mark":{"type":"rule","color":"#808080","strokeWidth":2.5},"encoding":{"x":{"datum":0},"y":{"datum":0},"y2":{"datum":1}}},
{"mark":{"type":"rule","color":"#808080","strokeWidth":2.5},"encoding":{"x":{"datum":1},"y":{"datum":0},"y2":{"datum":1}}},
{"mark":{"type":"text","fontSize":27,"fontStyle":"italic","fontWeight":"bold","align":"right","baseline":"middle","dx":-441,"color":"black"},"encoding":{"text":{"field":"a"}}},
{"mark":{"type":"text","fontSize":27,"fontStyle":"italic","align":"left","baseline":"middle","dx":-441,"color":"black"},"encoding":{"text":{"field":"b"}}}
]}
]
}
